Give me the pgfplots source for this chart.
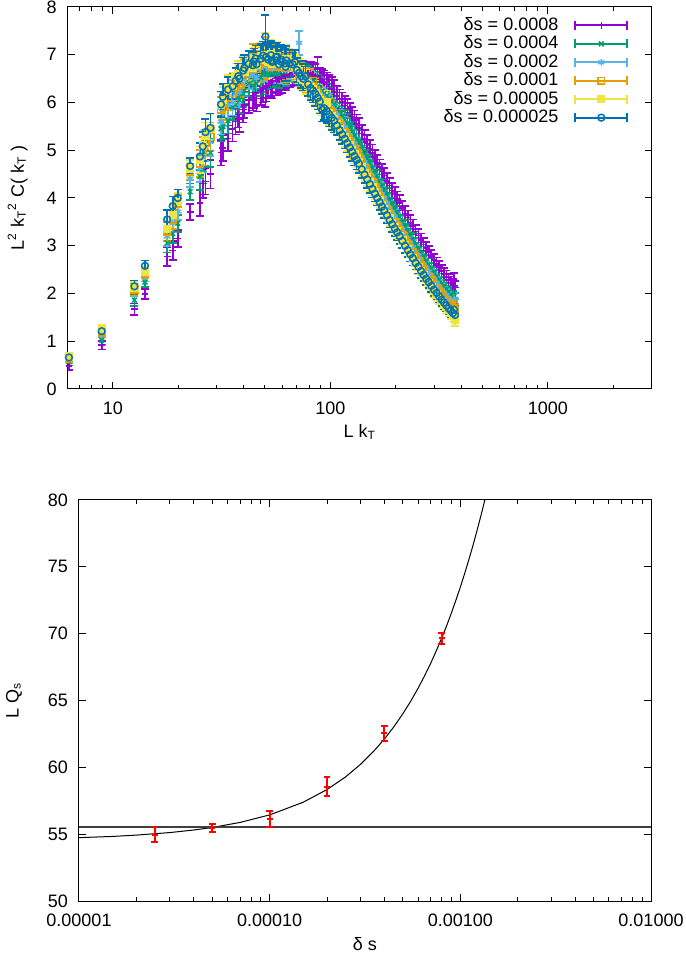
\documentclass[border=0pt]{standalone}
\usepackage{pgfplots}
\pgfplotsset{compat=1.18}
\usepackage{pgfplotstable}
\usepackage{fontspec}
\setmainfont{Liberation Sans}
\definecolor{cP}{HTML}{9400D3}
\definecolor{cG}{HTML}{009E73}
\definecolor{cL}{HTML}{56B4E9}
\definecolor{cO}{HTML}{E69F00}
\definecolor{cY}{HTML}{F0E442}
\definecolor{cB}{HTML}{0072B2}
\definecolor{cR}{HTML}{FF0000}
\definecolor{cK}{HTML}{404040}

\pgfplotstableread{
x B P G L O Y E
6.283 0.66 0.48 0.57 0.62 0.64 0.68 0.08
8.886 1.21 0.92 1.02 1.17 1.19 1.26 0.09
12.566 2.15 1.67 1.86 2.06 2.08 2.12 0.12
14.050 2.58 1.99 2.24 2.36 2.42 2.45 0.11
17.772 3.55 2.77 3.06 3.20 3.30 3.35 0.20
18.850 3.83 2.90 3.26 3.48 3.55 3.65 0.20
19.869 4.00 3.15 3.47 3.72 3.88 3.92 0.18
22.654 4.67 3.71 4.13 4.40 4.55 4.62 0.17
25.133 4.87 3.90 4.45 4.62 4.72 4.80 0.28
25.906 5.08 4.30 4.60 4.85 4.98 5.10 0.30
26.657 5.38 4.35 4.95 5.05 5.15 5.30 0.28
28.099 5.47 4.50 4.95 5.18 5.28 5.45 0.30
31.416 5.96 4.95 5.45 5.60 5.85 5.95 0.27
32.037 6.12 5.05 5.50 5.78 5.90 6.05 0.27
33.836 6.27 5.25 5.62 5.95 6.10 6.30 0.27
35.543 6.34 5.45 5.90 6.00 6.20 6.35 0.27
36.636 6.45 5.60 5.95 6.18 6.32 6.55 0.27
37.699 6.55 5.75 6.12 6.25 6.45 6.60 0.27
38.219 6.50 5.65 6.05 6.22 6.38 6.52 0.27
39.738 6.67 5.85 6.18 6.40 6.55 6.70 0.27
40.232 6.72 5.95 6.25 6.48 6.62 6.65 0.27
42.150 6.81 6.05 6.40 6.55 6.70 6.80 0.27
43.982 6.78 6.10 6.35 6.58 6.95 6.72 0.27
44.429 6.86 6.15 6.48 6.65 6.75 6.88 0.27
45.310 6.92 6.20 6.55 6.70 6.82 6.90 0.27
45.743 6.80 6.08 6.40 6.52 6.70 6.78 0.27
47.851 6.92 6.25 6.52 6.72 6.85 6.95 0.30
49.073 6.98 6.30 6.60 6.78 6.88 6.92 0.30
50.265 7.38 6.35 6.62 6.80 6.92 7.00 0.45
50.657 6.95 6.32 6.58 6.75 6.80 6.90 0.30
51.812 6.90 6.40 6.60 6.70 6.85 6.85 0.30
53.314 6.99 6.42 6.68 6.80 6.92 7.02 0.30
53.683 6.88 6.38 6.62 6.72 6.80 6.85 0.30
54.050 6.85 6.45 6.65 6.70 6.75 6.80 0.30
56.199 6.95 6.50 6.70 6.80 6.85 6.95 0.30
56.549 6.88 6.45 6.60 6.75 6.82 6.85 0.30
56.897 6.96 6.52 6.72 6.80 6.90 6.98 0.30
57.927 6.80 6.48 6.60 6.70 6.75 6.80 0.30
59.275 6.90 6.55 6.72 6.78 6.85 6.90 0.30
59.607 6.85 6.50 6.68 6.72 6.78 6.82 0.30
61.882 6.82 6.58 6.70 6.75 6.80 6.85 0.30
62.200 6.75 6.55 6.65 6.68 6.72 6.76 0.30
62.832 6.88 6.60 6.74 6.78 6.85 6.90 0.30
64.9 6.82 6.60 6.72 6.76 6.80 6.84 0.28
67.1 6.80 6.62 6.72 6.75 6.78 6.80 0.25
68.6 6.85 6.60 6.68 6.70 6.72 6.75 0.25
70.2 6.68 6.65 6.70 6.68 6.66 6.70 0.25
71.8 6.62 6.62 6.65 7.25 6.60 6.66 0.25
73.3 6.55 6.60 6.60 6.58 6.55 6.52 0.25
74.9 6.50 6.62 6.58 6.55 6.50 6.48 0.25
77.0 6.55 6.58 6.51 6.48 6.45 6.43 0.25
79.0 6.38 6.60 6.51 6.46 6.42 6.39 0.25
81.1 6.30 6.60 6.47 6.41 6.35 6.32 0.25
83.2 6.25 6.58 6.44 6.37 6.45 6.27 0.25
85.3 6.18 6.55 6.39 6.31 6.25 6.20 0.25
87.4 6.10 6.70 6.34 6.25 6.18 6.12 0.25
89.4 6.02 6.48 6.28 6.18 6.10 6.04 0.25
91.5 5.85 6.45 6.24 6.13 6.04 5.98 0.25
93.6 5.88 6.42 6.19 6.07 5.98 5.91 0.25
96.2 5.82 6.38 6.14 6.02 5.92 6.00 0.25
98.8 5.75 6.33 6.08 5.95 5.85 5.78 0.25
101.4 5.68 6.28 6.02 5.89 5.79 5.71 0.25
104.0 5.62 6.22 5.96 5.83 5.73 5.65 0.25
107.1 5.52 6.14 5.87 5.74 5.63 5.55 0.20
110.2 5.42 6.07 5.79 5.65 5.54 5.45 0.20
113.4 5.33 6.01 5.72 5.57 5.45 5.36 0.20
116.5 5.24 5.94 5.64 5.49 5.37 5.27 0.20
119.6 5.15 5.87 5.56 5.40 5.28 5.19 0.20
122.7 5.06 5.79 5.48 5.32 5.19 5.10 0.20
125.8 4.97 5.71 5.39 5.23 5.10 5.01 0.20
129.0 4.88 5.63 5.31 5.14 5.02 4.92 0.20
132.1 4.80 5.55 5.23 5.06 4.94 4.84 0.20
135.2 4.72 5.47 5.15 4.98 4.86 4.76 0.20
139.4 4.60 5.35 5.03 4.86 4.74 4.64 0.18
143.5 4.49 5.24 4.92 4.75 4.63 4.53 0.18
147.7 4.39 5.14 4.82 4.65 4.53 4.43 0.18
151.8 4.29 5.04 4.72 4.55 4.43 4.33 0.18
156.0 4.19 4.94 4.62 4.45 4.33 4.23 0.18
160.2 4.09 4.84 4.52 4.35 4.23 4.13 0.16
164.3 4.00 4.74 4.42 4.26 4.13 4.04 0.16
168.5 3.91 4.65 4.33 4.17 4.04 3.95 0.16
172.6 3.82 4.55 4.24 4.08 3.95 3.86 0.16
176.8 3.74 4.47 4.16 4.00 3.87 3.77 0.16
182.0 3.64 4.36 4.05 3.89 3.77 3.67 0.16
187.2 3.54 4.26 3.95 3.79 3.67 3.57 0.16
192.4 3.45 4.16 3.85 3.70 3.58 3.47 0.16
197.6 3.36 4.07 3.76 3.61 3.49 3.38 0.16
202.8 3.28 3.98 3.68 3.53 3.41 3.30 0.16
208.0 3.20 3.90 3.60 3.45 3.33 3.21 0.16
214.2 3.10 3.79 3.49 3.34 3.22 3.11 0.15
220.5 3.00 3.68 3.39 3.24 3.12 3.01 0.15
226.7 2.91 3.59 3.30 3.15 3.03 2.92 0.15
233.0 2.82 3.49 3.20 3.05 2.94 2.82 0.15
239.2 2.74 3.40 3.12 2.97 2.86 2.74 0.15
246.5 2.64 3.30 3.02 2.87 2.76 2.64 0.14
253.8 2.56 3.21 2.93 2.79 2.68 2.55 0.14
261.0 2.47 3.12 2.84 2.70 2.59 2.46 0.14
268.3 2.39 3.03 2.75 2.61 2.51 2.38 0.13
275.6 2.31 2.95 2.67 2.53 2.43 2.30 0.13
282.9 2.24 2.87 2.60 2.46 2.35 2.22 0.13
291.2 2.16 2.78 2.51 2.38 2.27 2.14 0.13
299.5 2.08 2.70 2.43 2.30 2.19 2.06 0.13
307.8 2.01 2.62 2.36 2.22 2.12 1.98 0.13
316.2 1.94 2.55 2.29 2.15 2.05 1.91 0.13
324.5 1.87 2.47 2.21 2.08 1.98 1.84 0.13
332.8 1.81 2.41 2.15 2.02 1.92 1.77 0.13
341.1 1.75 2.35 2.09 1.96 1.86 1.71 0.13
349.4 1.69 2.28 2.03 1.90 1.80 1.65 0.13
357.8 1.64 2.23 1.98 1.85 1.75 1.59 0.13
366.1 1.59 2.17 1.92 1.79 1.69 1.54 0.13
370.2 1.66 2.30 2.02 1.88 1.78 1.62 0.13
374.4 1.55 2.13 1.88 1.75 1.65 1.45 0.13
}\topdata

\pgfplotstableread{
ds q e
0.000025 54.96 0.55
0.00005 55.43 0.30
0.0001 56.10 0.60
0.0002 58.55 0.70
0.0004 62.54 0.55
0.0008 69.65 0.40
}\qsdata

\pgfplotstableread{
ds q
0.00001 54.74
0.000015 54.83
0.00002 54.93
0.00003 55.12
0.00004 55.31
0.00005 55.50
0.00007 55.88
0.0001 56.44
0.00015 57.39
0.0002 58.34
0.00025 59.28
0.0003 60.23
0.00035 61.18
0.0004 62.12
0.00045 63.07
0.0005 64.02
0.00055 64.96
0.0006 65.91
0.00065 66.86
0.0007 67.80
0.00075 68.75
0.0008 69.70
0.00085 70.64
0.0009 71.59
0.00095 72.54
0.001 73.48
0.00105 74.43
0.0011 75.38
0.00115 76.32
0.0012 77.27
0.00125 78.22
0.0013 79.16
0.001344 80.00
}\fitdata

\pgfplotsset{
  gp/.style={scale only axis, tick align=inside,
    major tick length=3.5pt, minor tick length=1.8pt,
    axis line style={line width=0.5pt, draw=black},
    every tick/.style={draw=black, line width=0.5pt},
    tick label style={font=\fontsize{9}{10.8}\selectfont},
    label style={font=\fontsize{9}{10.8}\selectfont},
    /pgf/number format/assume math mode=true,
    xticklabel style={yshift=-3pt},
    yticklabel style={xshift=-2pt},
    xlabel style={at={(axis description cs:0.5,0)}, anchor=center, yshift=-21.5pt},
  },
  ebpt/.style 2 args={draw=#1, fill=#1, mark=#2, only marks, mark size=1.7pt,
    mark options={solid, draw=#1, fill=#1, line width=0.75pt}, line width=0.8pt,
    legend image code/.code={
      \draw[mark=none, draw=#1, line width=1pt] (0pt,0pt) -- (26pt,0pt);
      \draw[mark=none, draw=#1, line width=1pt] (0pt,-2.2pt) -- (0pt,2.2pt);
      \draw[mark=none, draw=#1, line width=1pt] (26pt,-2.2pt) -- (26pt,2.2pt);
      \draw[draw=#1, fill=#1, line width=0.8pt] plot coordinates {(13pt,0pt)};
    },
    error bars/.cd, y dir=both, y explicit,
    error bar style={line width=0.8pt, draw=#1},
    error mark options={rotate=90, mark size=2pt, line width=0.8pt, draw=#1}},
}

\begin{document}
\begin{tikzpicture}
\useasboundingbox (0,0) rectangle (342.5pt,478pt);
\begin{semilogxaxis}[gp,
  at={(33.85pt,283.5pt)}, anchor=south west, width=292pt, height=191pt,
  xmin=6.2, xmax=3000, ymin=0, ymax=8,
  xtick={10,100,1000}, xticklabels={10,100,1000},
  minor xtick={7,8,9,20,30,40,50,60,70,80,90,200,300,400,500,600,700,800,900,2000,3000},
  ytick={0,1,2,3,4,5,6,7,8},
  xlabel={L k\textsubscript{T}},
  ylabel={L\textsuperscript{2} k\textsubscript{T}\textsuperscript{2} C( k\textsubscript{T} )},
  ylabel style={at={([xshift=-25pt]axis description cs:0,0.5)}, anchor=center},
  legend cell align=right, legend plot pos=right,
  legend style={draw=none, fill=none, at={(1,1)}, anchor=north east,
    xshift=-11.5pt, yshift=-3pt, inner sep=0pt, row sep=-2.8pt, column sep=6pt,
    font=\fontsize{9}{10.8}\selectfont},
]
\addplot[ebpt={cP}{+}] table[x=x,y=P,y error=E]{\topdata};
\addlegendentry{δs = 0.0008}
\addplot[ebpt={cG}{x}] table[x=x,y=G,y error=E]{\topdata};
\addlegendentry{δs = 0.0004}
\addplot[ebpt={cL}{asterisk}] table[x=x,y=L,y error=E]{\topdata};
\addlegendentry{δs = 0.0002}
\addplot[ebpt={cO}{square}] table[x=x,y=O,y error=E]{\topdata};
\addlegendentry{δs = 0.0001}
\addplot[ebpt={cY}{square*}] table[x=x,y=Y,y error=E]{\topdata};
\addlegendentry{δs = 0.00005}
\addplot[ebpt={cB}{o}] table[x=x,y=B,y error=E]{\topdata};
\addlegendentry{δs = 0.000025}
\end{semilogxaxis}

\begin{semilogxaxis}[gp,
  at={(39.5pt,27.5pt)}, anchor=south west, width=286pt, height=200.5pt,
  xmin=0.00001, xmax=0.01, ymin=50, ymax=80,
  xtick={0.00001,0.0001,0.001,0.01},
  xticklabels={0.00001,0.00010,0.00100,0.01000},
  minor xtick={0.00002,0.00003,0.00004,0.00005,0.00006,0.00007,0.00008,0.00009,
    0.0002,0.0003,0.0004,0.0005,0.0006,0.0007,0.0008,0.0009,
    0.002,0.003,0.004,0.005,0.006,0.007,0.008,0.009},
  ytick={50,55,60,65,70,75,80},
  xlabel={δ s},
  ylabel={L Q\textsubscript{s}},
  ylabel style={at={([xshift=-32.5pt]axis description cs:0,0.5)}, anchor=center},
]
\addplot[draw=black, line width=0.5pt] table[x=ds,y=q]{\fitdata};
\addplot[draw=cK, line width=1pt] coordinates {(0.00001,55.5) (0.01,55.5)};
\addplot[draw=cR, fill=cR, mark=+, only marks, mark size=1.5pt, line width=1pt,
  mark options={draw=cR, line width=1pt},
  error bars/.cd, y dir=both, y explicit,
  error bar style={line width=1pt, draw=cR},
  error mark options={rotate=90, mark size=1.7pt, line width=1pt, draw=cR}]
  table[x=ds,y=q,y error=e]{\qsdata};
\end{semilogxaxis}
\end{tikzpicture}
\end{document}
